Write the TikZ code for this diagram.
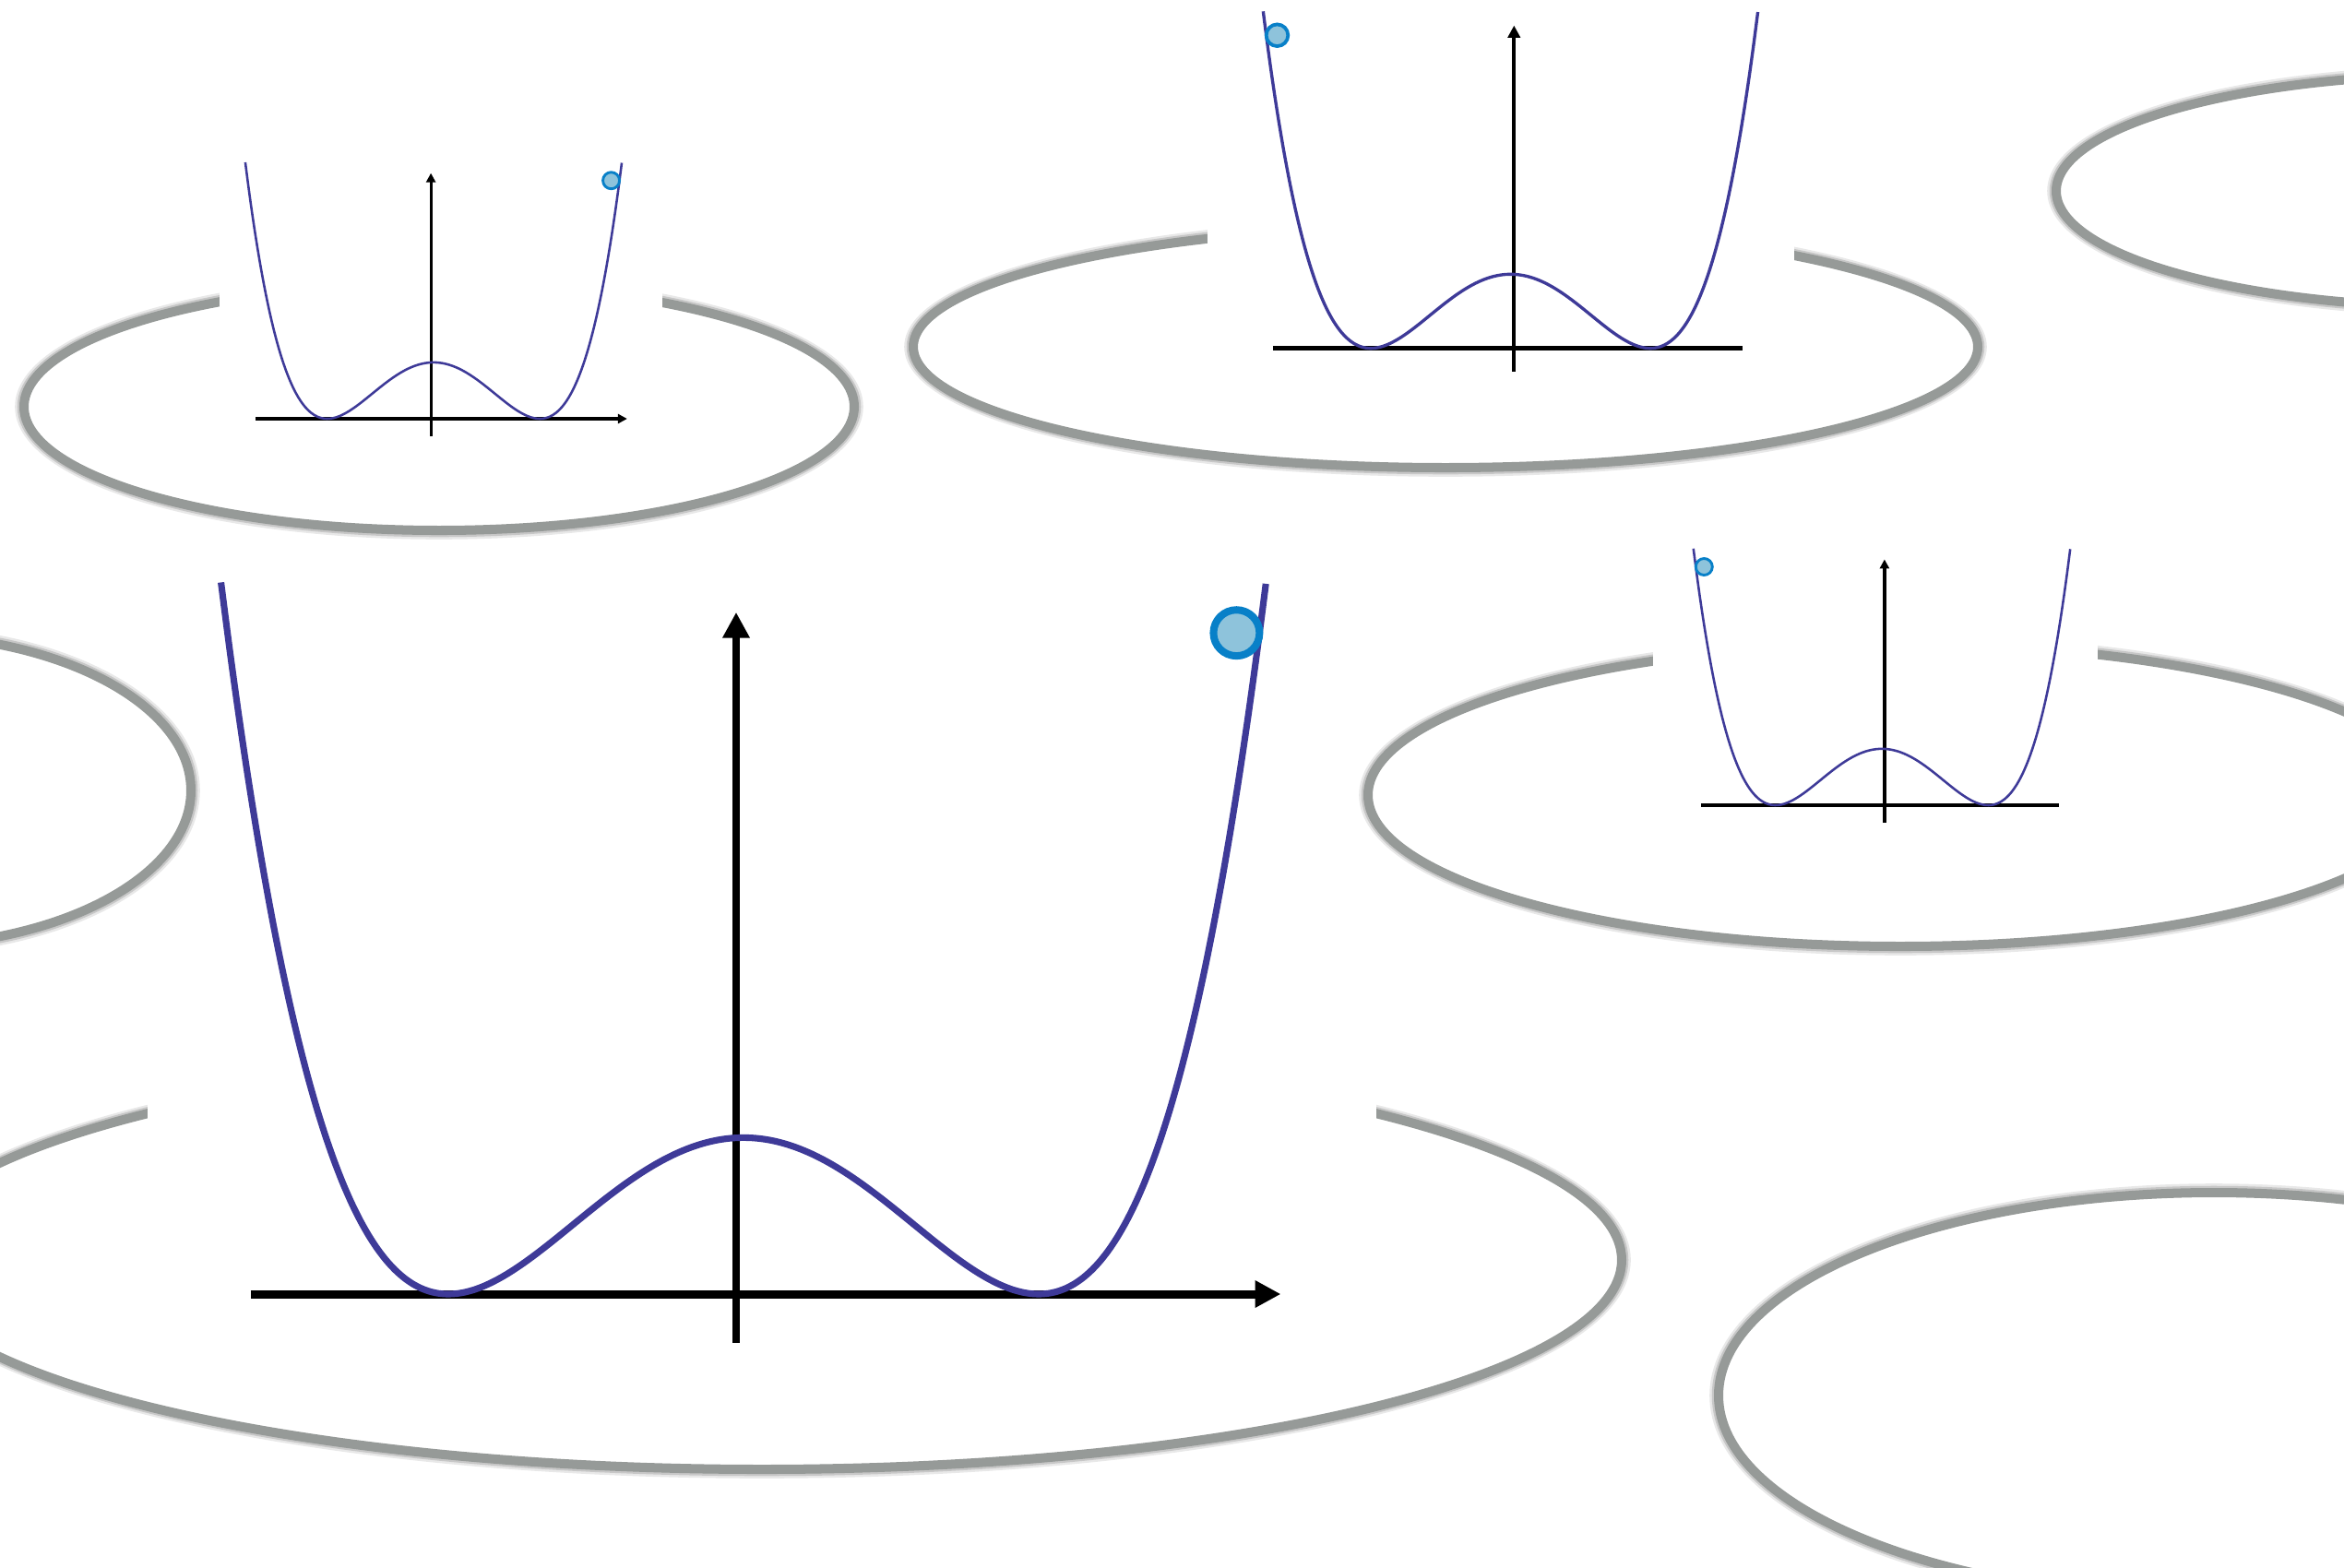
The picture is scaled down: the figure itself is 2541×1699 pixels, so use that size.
\documentclass[tikz,border=0pt]{standalone}
\usepackage{tikz}
\usetikzlibrary{arrows.meta}
\definecolor{ringgray}{RGB}{150,154,152}
\definecolor{wellblue}{RGB}{62,58,152}
\definecolor{ballfill}{RGB}{142,195,219}
\definecolor{ballline}{RGB}{8,128,200}

\begin{document}
\begin{tikzpicture}[
  x=0.01cm, y=-0.01cm,
  ring/.style={draw=ringgray, line width=2.85pt},
  ringshade/.style={draw=black, line width=3.3pt, opacity=0.09},
  cover/.style={fill=white, draw=none},
  well/.style={draw=wellblue, line join=round},
  axis/.style={draw=black},
  ball/.style={draw=ballline, fill=ballfill}
]
\useasboundingbox (0,0) rectangle (2541,1699);
\clip (0,0) rectangle (2541,1699);

% rings
\foreach \cx/\cy/\rx/\ry in {476/441/450/134, 1567/376/577/131, 2672/207/443/126,
  -113/857/320/169, 2060/862/577/164, 826/1366/932/227, 2400/1513/537/220} {
  \draw[ringshade] (\cx,\cy) ellipse [x radius=\rx+4, y radius=\ry+4];
  \draw[ringshade, line width=3pt, opacity=0.14] (\cx,\cy) ellipse [x radius=\rx+2, y radius=\ry+2];
  \draw[ring] (\cx,\cy) ellipse [x radius=\rx, y radius=\ry];
}

% white backs of the plots
\foreach \xa/\ya/\xb/\yb in {238/285/718/345, 1309/225/1945/300,
  1792/675/2274/740, 160/1110/1492/1235}
  \fill[cover] (\xa,\ya) rectangle (\xb,\yb);

% double wells
\foreach \cx/\cy/\u/\side/\harrow in {806/1403/320/1/1, 470/454/115.3/1/1,
  1637.5/377.6/151.5/-1/0, 2040/873/115.4/-1/0} {
  \pgfmathsetmacro\ucm{0.01*\u}
  \pgfmathsetmacro\curvew{0.0063*\u}
  \pgfmathsetmacro\axisw{0.00797*\u}
  \pgfmathsetmacro\ballw{0.00711*\u}
  \pgfmathsetmacro\tip{0.000875*\u}
  \begin{scope}[shift={(\cx,\cy)}]
  \begin{scope}[x=\ucm cm, y=\ucm cm]
    \draw[axis, line width=\axisw pt, -{Triangle[length=\tip cm, width=\tip cm]}]
      (-0.025*\side, -0.165) -- (-0.025*\side, 2.31);
    \ifnum\harrow=1
      \draw[axis, line width=\axisw pt, -{Triangle[length=\tip cm, width=\tip cm]}]
        (-1.67, 0) -- (1.82, 0);
    \else
      \draw[axis, line width=\axisw pt] (-1.70, 0) -- (1.66, 0);
    \fi
    \draw[well, line width=\curvew pt] plot[domain=-1.77:1.77, samples=121, smooth]
      (\x, {0.53*(1-\x*\x)*(1-\x*\x)});
    \draw[ball, line width=\ballw pt] (1.67*\side, 2.24) circle [radius=0.078];
  \end{scope}
  \end{scope}
}
\end{tikzpicture}
\end{document}
